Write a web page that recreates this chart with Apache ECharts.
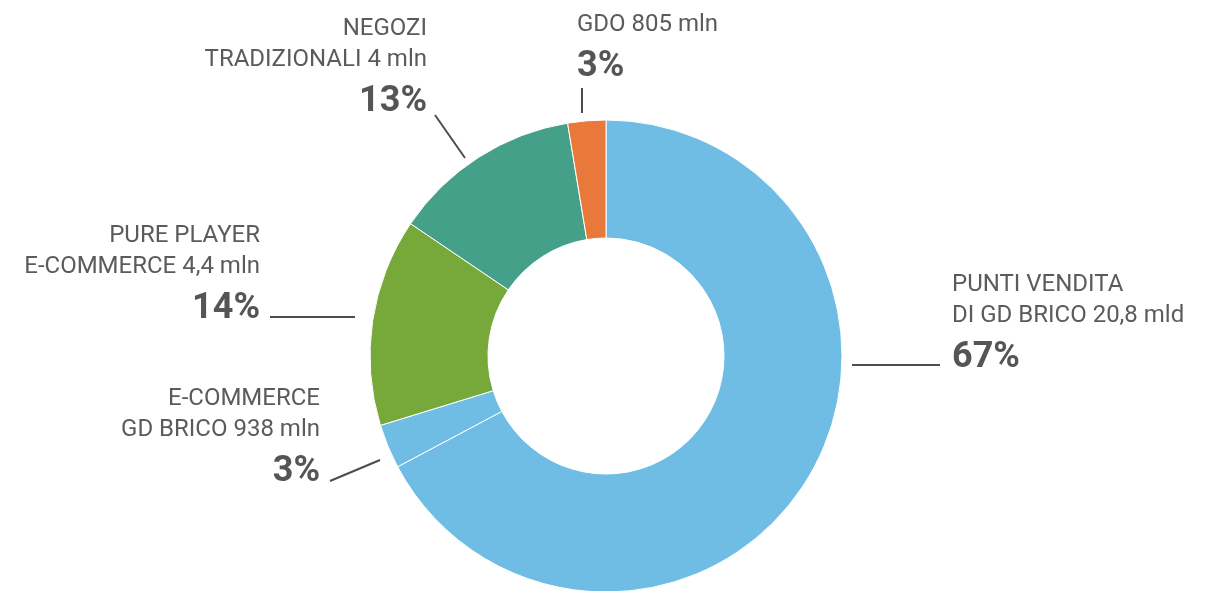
<!DOCTYPE html>
<html>
<head>
<meta charset="utf-8">
<script src="https://cdn.jsdelivr.net/npm/echarts@6/dist/echarts.min.js"></script>
<style>
  html, body { margin: 0; padding: 0; background: #fff; }
  #chart { width: 1205px; height: 591px; }
</style>
</head>
<body>
<div id="chart"></div>
<script>
// valori in miliardi di euro
const names = [
  "PUNTI VENDITA\nDI GD BRICO 20,8 mld",
  "E-COMMERCE\nGD BRICO 938 mln",
  "PURE PLAYER\nE-COMMERCE 4,4 mln",
  "NEGOZI\nTRADIZIONALI 4 mln",
  "GDO 805 mln"
];
const values = [20.8, 0.938, 4.4, 4, 0.805];
const percents = ["67%", "3%", "14%", "13%", "3%"];
const colors = ["#6fbde5", "#6fbde5", "#76a83a", "#45a08a", "#e8793a"];

// posizione delle etichette e delle linee guida
const labelPos = [
  { x: 952, y: 269, align: "left",  line: [[852, 365], [940, 365]] },
  { x: 320, y: 383, align: "right", line: [[380, 460], [330, 481]] },
  { x: 260, y: 220, align: "right", line: [[355, 317], [270, 317]] },
  { x: 427, y: 13,  align: "right", line: [[465, 158], [435, 115]] },
  { x: 577, y: 9,   align: "left",  line: [[582, 113], [582, 88]] }
];

const makeRich = (align) => ({
  n: { fontFamily: "Roboto", fontSize: 24, lineHeight: 31, color: "#5b5b5d", align: align },
  p: { fontFamily: "Roboto", fontSize: 36, fontWeight: "bold", lineHeight: 54, color: "#555557", align: align }
});

const chart = echarts.init(document.getElementById("chart"));

const data = values.map((v, i) => ({
  name: names[i],
  value: v,
  itemStyle: { color: colors[i] },
  label: {
    align: labelPos[i].align,
    formatter: names[i].split("\n").map((s) => "{n|" + s + "}").join("\n") + "\n{p|" + percents[i] + "}",
    rich: makeRich(labelPos[i].align)
  }
}));

chart.setOption({
  animation: false,
  series: [
    {
      type: "pie",
      center: [606, 356],
      radius: [118, 236],
      startAngle: 90,
      clockwise: true,
      avoidLabelOverlap: false,
      itemStyle: { borderColor: "#ffffff", borderWidth: 1 },
      emphasis: { disabled: true },
      label: { show: true, position: "outside" },
      labelLine: { show: true, lineStyle: { color: "#4d4d4f", width: 2 } },
      labelLayout: function (params) {
        const p = labelPos[params.dataIndex];
        return {
          x: p.x,
          y: p.y,
          align: p.align,
          verticalAlign: "top",
          labelLinePoints: p.line
        };
      },
      data: data
    }
  ]
});
</script>
</body>
</html>
